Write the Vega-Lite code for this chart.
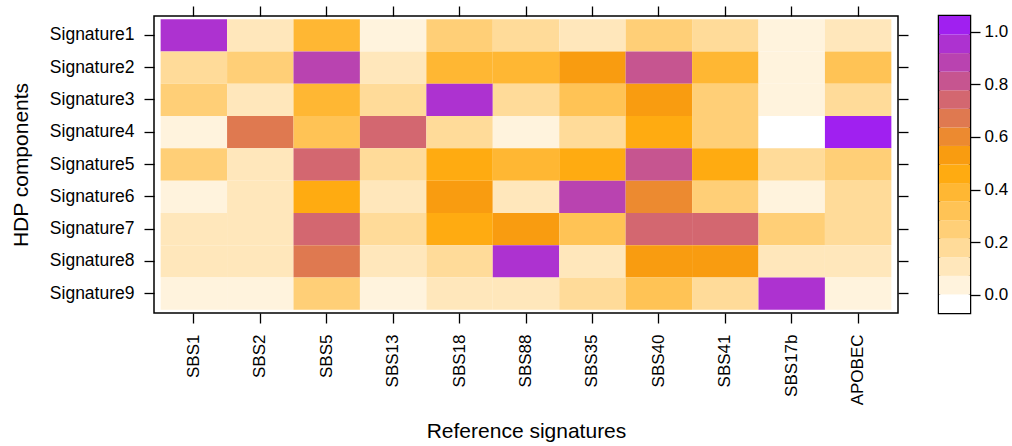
{
  "$schema": "https://vega.github.io/schema/vega-lite/v6.json",
  "padding": {"left": 9, "top": 4, "right": 5, "bottom": 3},
  "bounds": "flush",
  "spacing": 41,
  "config": {
    "font": "Liberation Sans",
    "view": {"stroke": "#000000", "strokeWidth": 1.5},
    "axis": {
      "domain": false, "grid": false, "ticks": true, "tickColor": "#000000", "tickWidth": 1.3, "tickSize": 10,
      "labelColor": "#000000", "titleColor": "#000000", "labelFontSize": 17.5, "titleFontSize": 21,
      "titleFontWeight": "normal", "labelFont": "Liberation Sans", "titleFont": "Liberation Sans"
    }
  },
  "resolve": {"scale": {"color": "independent"}},
  "datasets": {
    "cells": [
      {"comp": "Signature1", "ref": "SBS1", "value": 0.95},
      {"comp": "Signature1", "ref": "SBS2", "value": 0.11},
      {"comp": "Signature1", "ref": "SBS5", "value": 0.39},
      {"comp": "Signature1", "ref": "SBS13", "value": 0.04},
      {"comp": "Signature1", "ref": "SBS18", "value": 0.25},
      {"comp": "Signature1", "ref": "SBS88", "value": 0.18},
      {"comp": "Signature1", "ref": "SBS35", "value": 0.11},
      {"comp": "Signature1", "ref": "SBS40", "value": 0.25},
      {"comp": "Signature1", "ref": "SBS41", "value": 0.18},
      {"comp": "Signature1", "ref": "SBS17b", "value": 0.04},
      {"comp": "Signature1", "ref": "APOBEC", "value": 0.11},
      {"comp": "Signature2", "ref": "SBS1", "value": 0.18},
      {"comp": "Signature2", "ref": "SBS2", "value": 0.25},
      {"comp": "Signature2", "ref": "SBS5", "value": 0.88},
      {"comp": "Signature2", "ref": "SBS13", "value": 0.11},
      {"comp": "Signature2", "ref": "SBS18", "value": 0.39},
      {"comp": "Signature2", "ref": "SBS88", "value": 0.39},
      {"comp": "Signature2", "ref": "SBS35", "value": 0.53},
      {"comp": "Signature2", "ref": "SBS40", "value": 0.81},
      {"comp": "Signature2", "ref": "SBS41", "value": 0.39},
      {"comp": "Signature2", "ref": "SBS17b", "value": 0.04},
      {"comp": "Signature2", "ref": "APOBEC", "value": 0.32},
      {"comp": "Signature3", "ref": "SBS1", "value": 0.25},
      {"comp": "Signature3", "ref": "SBS2", "value": 0.11},
      {"comp": "Signature3", "ref": "SBS5", "value": 0.39},
      {"comp": "Signature3", "ref": "SBS13", "value": 0.18},
      {"comp": "Signature3", "ref": "SBS18", "value": 0.95},
      {"comp": "Signature3", "ref": "SBS88", "value": 0.18},
      {"comp": "Signature3", "ref": "SBS35", "value": 0.32},
      {"comp": "Signature3", "ref": "SBS40", "value": 0.53},
      {"comp": "Signature3", "ref": "SBS41", "value": 0.25},
      {"comp": "Signature3", "ref": "SBS17b", "value": 0.04},
      {"comp": "Signature3", "ref": "APOBEC", "value": 0.18},
      {"comp": "Signature4", "ref": "SBS1", "value": 0.04},
      {"comp": "Signature4", "ref": "SBS2", "value": 0.67},
      {"comp": "Signature4", "ref": "SBS5", "value": 0.32},
      {"comp": "Signature4", "ref": "SBS13", "value": 0.74},
      {"comp": "Signature4", "ref": "SBS18", "value": 0.18},
      {"comp": "Signature4", "ref": "SBS88", "value": 0.04},
      {"comp": "Signature4", "ref": "SBS35", "value": 0.18},
      {"comp": "Signature4", "ref": "SBS40", "value": 0.46},
      {"comp": "Signature4", "ref": "SBS41", "value": 0.25},
      {"comp": "Signature4", "ref": "SBS17b", "value": 0.0},
      {"comp": "Signature4", "ref": "APOBEC", "value": 0.99},
      {"comp": "Signature5", "ref": "SBS1", "value": 0.25},
      {"comp": "Signature5", "ref": "SBS2", "value": 0.11},
      {"comp": "Signature5", "ref": "SBS5", "value": 0.74},
      {"comp": "Signature5", "ref": "SBS13", "value": 0.18},
      {"comp": "Signature5", "ref": "SBS18", "value": 0.46},
      {"comp": "Signature5", "ref": "SBS88", "value": 0.39},
      {"comp": "Signature5", "ref": "SBS35", "value": 0.46},
      {"comp": "Signature5", "ref": "SBS40", "value": 0.81},
      {"comp": "Signature5", "ref": "SBS41", "value": 0.46},
      {"comp": "Signature5", "ref": "SBS17b", "value": 0.18},
      {"comp": "Signature5", "ref": "APOBEC", "value": 0.25},
      {"comp": "Signature6", "ref": "SBS1", "value": 0.04},
      {"comp": "Signature6", "ref": "SBS2", "value": 0.11},
      {"comp": "Signature6", "ref": "SBS5", "value": 0.46},
      {"comp": "Signature6", "ref": "SBS13", "value": 0.11},
      {"comp": "Signature6", "ref": "SBS18", "value": 0.53},
      {"comp": "Signature6", "ref": "SBS88", "value": 0.11},
      {"comp": "Signature6", "ref": "SBS35", "value": 0.88},
      {"comp": "Signature6", "ref": "SBS40", "value": 0.6},
      {"comp": "Signature6", "ref": "SBS41", "value": 0.25},
      {"comp": "Signature6", "ref": "SBS17b", "value": 0.04},
      {"comp": "Signature6", "ref": "APOBEC", "value": 0.18},
      {"comp": "Signature7", "ref": "SBS1", "value": 0.11},
      {"comp": "Signature7", "ref": "SBS2", "value": 0.11},
      {"comp": "Signature7", "ref": "SBS5", "value": 0.74},
      {"comp": "Signature7", "ref": "SBS13", "value": 0.18},
      {"comp": "Signature7", "ref": "SBS18", "value": 0.46},
      {"comp": "Signature7", "ref": "SBS88", "value": 0.53},
      {"comp": "Signature7", "ref": "SBS35", "value": 0.32},
      {"comp": "Signature7", "ref": "SBS40", "value": 0.74},
      {"comp": "Signature7", "ref": "SBS41", "value": 0.74},
      {"comp": "Signature7", "ref": "SBS17b", "value": 0.25},
      {"comp": "Signature7", "ref": "APOBEC", "value": 0.18},
      {"comp": "Signature8", "ref": "SBS1", "value": 0.11},
      {"comp": "Signature8", "ref": "SBS2", "value": 0.11},
      {"comp": "Signature8", "ref": "SBS5", "value": 0.67},
      {"comp": "Signature8", "ref": "SBS13", "value": 0.11},
      {"comp": "Signature8", "ref": "SBS18", "value": 0.18},
      {"comp": "Signature8", "ref": "SBS88", "value": 0.95},
      {"comp": "Signature8", "ref": "SBS35", "value": 0.11},
      {"comp": "Signature8", "ref": "SBS40", "value": 0.53},
      {"comp": "Signature8", "ref": "SBS41", "value": 0.53},
      {"comp": "Signature8", "ref": "SBS17b", "value": 0.11},
      {"comp": "Signature8", "ref": "APOBEC", "value": 0.11},
      {"comp": "Signature9", "ref": "SBS1", "value": 0.04},
      {"comp": "Signature9", "ref": "SBS2", "value": 0.04},
      {"comp": "Signature9", "ref": "SBS5", "value": 0.25},
      {"comp": "Signature9", "ref": "SBS13", "value": 0.04},
      {"comp": "Signature9", "ref": "SBS18", "value": 0.11},
      {"comp": "Signature9", "ref": "SBS88", "value": 0.11},
      {"comp": "Signature9", "ref": "SBS35", "value": 0.18},
      {"comp": "Signature9", "ref": "SBS40", "value": 0.32},
      {"comp": "Signature9", "ref": "SBS41", "value": 0.18},
      {"comp": "Signature9", "ref": "SBS17b", "value": 0.95},
      {"comp": "Signature9", "ref": "APOBEC", "value": 0.04}
    ],
    "key": [
      {"lo": -0.0693, "hi": 0.0012, "mid": -0.034},
      {"lo": 0.0012, "hi": 0.0718, "mid": 0.0365},
      {"lo": 0.0718, "hi": 0.1423, "mid": 0.107},
      {"lo": 0.1423, "hi": 0.2129, "mid": 0.178},
      {"lo": 0.2129, "hi": 0.2834, "mid": 0.248},
      {"lo": 0.2834, "hi": 0.354, "mid": 0.319},
      {"lo": 0.354, "hi": 0.4245, "mid": 0.389},
      {"lo": 0.4245, "hi": 0.4951, "mid": 0.46},
      {"lo": 0.4951, "hi": 0.5656, "mid": 0.53},
      {"lo": 0.5656, "hi": 0.6361, "mid": 0.601},
      {"lo": 0.6361, "hi": 0.7067, "mid": 0.671},
      {"lo": 0.7067, "hi": 0.7772, "mid": 0.742},
      {"lo": 0.7772, "hi": 0.8478, "mid": 0.813},
      {"lo": 0.8478, "hi": 0.9183, "mid": 0.883},
      {"lo": 0.9183, "hi": 0.9889, "mid": 0.954},
      {"lo": 0.9889, "hi": 1.0594, "mid": 1.024}
    ]
  },
  "hconcat": [
    {
      "width": 744,
      "height": 297,
      "data": {"name": "cells"},
      "layer": [
        {
          "mark": {"type": "rect"},
          "encoding": {
            "x": {
              "field": "ref", "type": "nominal",
              "sort": ["SBS1", "SBS2", "SBS5", "SBS13", "SBS18", "SBS88", "SBS35", "SBS40", "SBS41", "SBS17b", "APOBEC"],
              "scale": {"paddingInner": 0, "paddingOuter": 0.1},
              "axis": {"orient": "bottom", "title": "Reference signatures", "labelAngle": -90, "labelFontSize": 17, "labelPadding": 11, "titlePadding": 16}
            },
            "y": {
              "field": "comp", "type": "nominal",
              "sort": ["Signature1", "Signature2", "Signature3", "Signature4", "Signature5", "Signature6", "Signature7", "Signature8", "Signature9"],
              "scale": {"paddingInner": 0, "paddingOuter": 0.1},
              "axis": {"orient": "left", "title": "HDP components", "labelPadding": 10, "titlePadding": 18}
            },
            "color": {
              "field": "value", "type": "quantitative",
              "scale": {
                "type": "threshold",
                "domain": [0.0012, 0.0718, 0.1423, 0.2129, 0.2834, 0.354, 0.4245, 0.4951, 0.5656, 0.6361, 0.7067, 0.7772, 0.8478, 0.9183, 0.9889],
                "range": ["#FFFFFF", "#FFF3DD", "#FFE7BB", "#FFDB99", "#FFCF77", "#FFC355", "#FFB733", "#FFAB11", "#F99C10", "#EC8A30", "#DF7950", "#D36770", "#C65590", "#B943B0", "#AD32D0", "#A020F0"]
              },
              "legend": null
            }
          }
        },
        {
          "mark": {"type": "rect", "opacity": 0},
          "encoding": {
            "x": {
              "field": "ref", "type": "nominal",
              "sort": ["SBS1", "SBS2", "SBS5", "SBS13", "SBS18", "SBS88", "SBS35", "SBS40", "SBS41", "SBS17b", "APOBEC"],
              "axis": {"orient": "top", "title": null, "labels": false}
            },
            "y": {
              "field": "comp", "type": "nominal",
              "sort": ["Signature1", "Signature2", "Signature3", "Signature4", "Signature5", "Signature6", "Signature7", "Signature8", "Signature9"],
              "axis": {"orient": "right", "title": null, "labels": false}
            }
          }
        }
      ],
      "resolve": {"axis": {"x": "independent", "y": "independent"}}
    },
    {
      "width": 31,
      "height": 297,
      "data": {"name": "key"},
      "view": {"stroke": "#000000", "strokeWidth": 2.5},
      "mark": {"type": "rect"},
      "encoding": {
        "y": {
          "field": "lo", "type": "quantitative",
          "scale": {"domain": [-0.0693, 1.0594], "nice": false, "zero": false},
          "axis": {"orient": "right", "title": null, "values": [0, 0.2, 0.4, 0.6, 0.8, 1.0], "format": ".1f", "labelPadding": 4, "labelFontSize": 17}
        },
        "y2": {"field": "hi"},
        "color": {
          "field": "mid", "type": "quantitative",
          "scale": {
            "type": "threshold",
            "domain": [0.0012, 0.0718, 0.1423, 0.2129, 0.2834, 0.354, 0.4245, 0.4951, 0.5656, 0.6361, 0.7067, 0.7772, 0.8478, 0.9183, 0.9889],
            "range": ["#FFFFFF", "#FFF3DD", "#FFE7BB", "#FFDB99", "#FFCF77", "#FFC355", "#FFB733", "#FFAB11", "#F99C10", "#EC8A30", "#DF7950", "#D36770", "#C65590", "#B943B0", "#AD32D0", "#A020F0"]
          },
          "legend": null
        }
      }
    }
  ]
}
